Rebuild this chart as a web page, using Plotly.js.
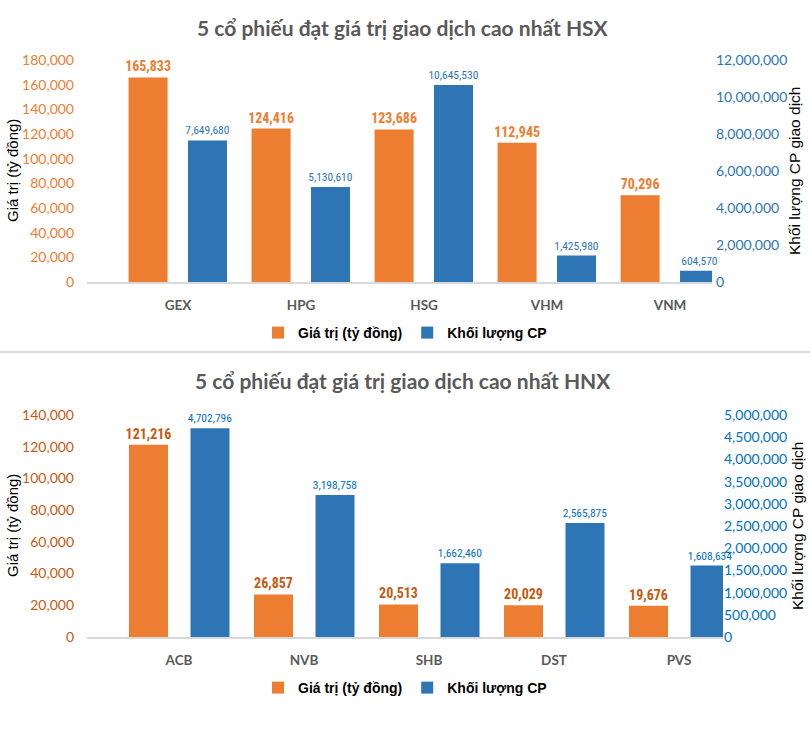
<!DOCTYPE html>
<html>
<head>
<meta charset="utf-8">
<script src="https://cdn.plot.ly/plotly-3.0.1.min.js"></script>
<style>html,body{margin:0;padding:0;background:#fff;}#chart{width:810px;height:734px;}</style>
</head>
<body>
<div id="chart"></div>
<script>
// ---- Data ----
const hsxCategories = ['GEX', 'HPG', 'HSG', 'VHM', 'VNM'];
const hsxValue = [165833, 124416, 123686, 112945, 70296];          // Giá trị (tỷ đồng)
const hsxVolume = [7649680, 5130610, 10645530, 1425980, 604570];   // Khối lượng CP

const hnxCategories = ['ACB', 'NVB', 'SHB', 'DST', 'PVS'];
const hnxValue = [121216, 26857, 20513, 20029, 19676];
const hnxVolume = [4702796, 3198758, 1662460, 2565875, 1608634];

const hsxTitle = '5 cổ phiếu đạt giá trị giao dịch cao nhất HSX';
const hnxTitle = '5 cổ phiếu đạt giá trị giao dịch cao nhất HNX';
const seriesNames = ['Giá trị (tỷ đồng)', 'Khối lượng CP'];
const leftAxisTitle = 'Giá trị (tỷ đồng)';
const rightAxisTitle = 'Khối lượng CP giao dịch';

// ---- Styling ----
const W = 810, H = 734;
const ORANGE = '#ED7D31', BLUE = '#2E75B6';
const NARROW = 'Liberation Sans Narrow, Arial Narrow, Roboto Condensed, Roboto, sans-serif';
const LATO = 'Lato, Calibri, Carlito, sans-serif';
const ARIAL = 'Liberation Sans, Arial, sans-serif';
const px = v => v / W, py = v => 1 - v / H;

function barTrace(cats, vals, name, color, xa, ya, offset, width, lbl, legendId, showLegend) {
  return {
    type: 'bar', x: cats, y: vals, name: name, xaxis: xa, yaxis: ya,
    marker: {color: color, line: {width: 0}},
    offset: offset, width: width,
    texttemplate: '%{y:,}', textposition: 'outside', constraintext: 'none', cliponaxis: false,
    textfont: lbl, hoverinfo: 'none', legend: legendId, showlegend: showLegend
  };
}

const data = [
  barTrace(hsxCategories, hsxValue, seriesNames[0], ORANGE, 'x', 'y', -0.402, 0.317,
    {family: NARROW, size: 14, color: '#ED7D31', weight: 'bold'}, 'legend', true),
  barTrace(hsxCategories, hsxVolume, seriesNames[1], BLUE, 'x', 'y2', 0.081, 0.317,
    {family: NARROW, size: 11.5, color: '#2E75B6'}, 'legend', true),
  barTrace(hnxCategories, hnxValue, seriesNames[0], ORANGE, 'x2', 'y3', -0.400, 0.312,
    {family: NARROW, size: 14, color: '#C55A11', weight: 'bold'}, 'legend2', true),
  barTrace(hnxCategories, hnxVolume, seriesNames[1], BLUE, 'x2', 'y4', 0.092, 0.312,
    {family: NARROW, size: 11.5, color: '#0070C0'}, 'legend2', true)
];

const catAxis = (domain, anchor, range) => ({
  type: 'category', domain: domain, anchor: anchor, range: range,
  showline: true, linecolor: '#D9D9D9', linewidth: 1.5,
  ticks: '', ticklabelstandoff: 10, showgrid: false, zeroline: false,
  tickfont: {family: LATO, size: 13.5, color: '#595959', weight: 'bold'}
});
const valAxis = (extra) => Object.assign({
  showline: false, showgrid: false, zeroline: false, ticks: '', tickformat: ',',
}, extra);

const yTop = [py(282), py(60)];
const yBot = [py(637), py(415)];

const legendFont = {family: ARIAL, size: 14, color: '#000', weight: 'bold'};

const layout = {
  width: W, height: H,
  margin: {l: 0, r: 0, t: 0, b: 0},
  paper_bgcolor: '#fff', plot_bgcolor: 'rgba(0,0,0,0)',
  barmode: 'overlay', showlegend: true,
  xaxis: catAxis([px(87), px(712)], 'y', [-0.74, 4.341]),
  yaxis: valAxis({domain: yTop, anchor: 'x', range: [0, 180000], dtick: 20000,
    ticklabelstandoff: 12, tickfont: {family: LATO, size: 14, color: '#ED7D31'}}),
  yaxis2: valAxis({overlaying: 'y', side: 'right', anchor: 'x', range: [0, 12000000], dtick: 2000000,
    ticklabelstandoff: 3, tickfont: {family: LATO, size: 14, color: '#2E75B6'}}),
  xaxis2: catAxis([px(87), px(723)], 'y3', [-0.736, 4.352]),
  yaxis3: valAxis({domain: yBot, anchor: 'x2', range: [0, 140000], dtick: 20000,
    ticklabelstandoff: 12, tickfont: {family: LATO, size: 14, color: '#C55A11'}}),
  yaxis4: valAxis({overlaying: 'y3', side: 'right', anchor: 'x2', range: [0, 5000000], dtick: 500000,
    ticklabelstandoff: 0, tickfont: {family: LATO, size: 14, color: '#0070C0'}}),
  legend: {orientation: 'h', x: 0.5, xanchor: 'center', y: py(333), yanchor: 'middle',
    font: legendFont, bgcolor: 'rgba(0,0,0,0)', itemwidth: 30},
  legend2: {orientation: 'h', x: 0.5, xanchor: 'center', y: py(688), yanchor: 'middle',
    font: legendFont, bgcolor: 'rgba(0,0,0,0)', itemwidth: 30},
  shapes: [
    {type: 'line', xref: 'paper', yref: 'paper', x0: 0, x1: 1, y0: py(352), y1: py(352),
     line: {color: '#D9D9D9', width: 2}}
  ],
  annotations: [
    {text: hsxTitle, xref: 'paper', yref: 'paper', x: px(403), y: py(27), xanchor: 'center', yanchor: 'middle',
     showarrow: false, font: {family: LATO, size: 21, color: '#595959', weight: 'bold'}},
    {text: hnxTitle, xref: 'paper', yref: 'paper', x: px(403), y: py(381), xanchor: 'center', yanchor: 'middle',
     showarrow: false, font: {family: LATO, size: 21, color: '#595959', weight: 'bold'}},
    {text: leftAxisTitle, xref: 'paper', yref: 'paper', x: px(12), y: (yTop[0] + yTop[1]) / 2, textangle: -90,
     xanchor: 'center', yanchor: 'middle', showarrow: false, font: {family: ARIAL, size: 15, color: '#000'}},
    {text: rightAxisTitle, xref: 'paper', yref: 'paper', x: px(794), y: (yTop[0] + yTop[1]) / 2, textangle: -90,
     xanchor: 'center', yanchor: 'middle', showarrow: false, font: {family: ARIAL, size: 15.5, color: '#000'}},
    {text: leftAxisTitle, xref: 'paper', yref: 'paper', x: px(12), y: (yBot[0] + yBot[1]) / 2, textangle: -90,
     xanchor: 'center', yanchor: 'middle', showarrow: false, font: {family: ARIAL, size: 15, color: '#000'}},
    {text: rightAxisTitle, xref: 'paper', yref: 'paper', x: px(797), y: (yBot[0] + yBot[1]) / 2, textangle: -90,
     xanchor: 'center', yanchor: 'middle', showarrow: false, font: {family: ARIAL, size: 15.5, color: '#000'}}
  ]
};

Plotly.newPlot('chart', data, layout, {displayModeBar: false, staticPlot: true});
</script>
</body>
</html>
